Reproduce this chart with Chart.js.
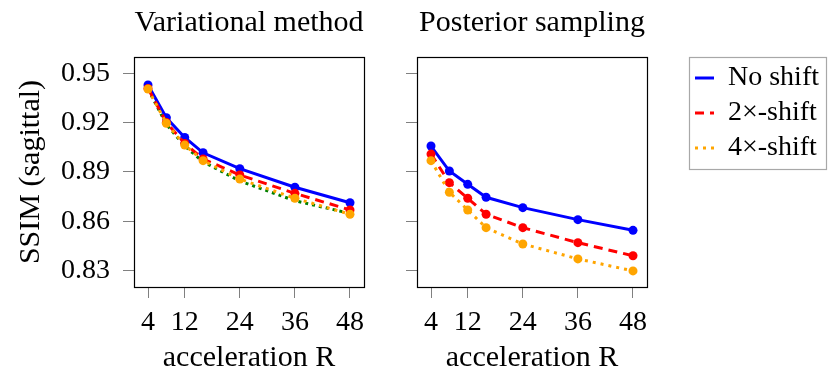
<!DOCTYPE html>
<html>
<head>
<meta charset="utf-8">
<script src="https://cdn.jsdelivr.net/npm/chart.js@4.4.1/dist/chart.umd.min.js"></script>
<style>
  body { margin: 0; background: #fff; }
  #c1 { position: absolute; left: 0; top: 0; }
  #c2 { position: absolute; left: 375px; top: 0; }
</style>
</head>
<body>
<canvas id="c1" width="375" height="370"></canvas>
<canvas id="c2" width="453" height="370"></canvas>
<script>
// acceleration factors R
var accel = [4, 8, 12, 16, 24, 36, 48];
var xTicks = [4, 12, 24, 36, 48];
var yTicks = [0.83, 0.86, 0.89, 0.92, 0.95];
var seriesNames = ['No shift', '2×-shift', '4×-shift'];

// Variational method
var varNoShift = [0.9430, 0.9230, 0.9110, 0.9017, 0.8920, 0.8807, 0.8713];
var var2x      = [0.9409, 0.9202, 0.9074, 0.8979, 0.8882, 0.8770, 0.8669];
var var4x      = [0.9405, 0.9196, 0.9064, 0.8969, 0.8857, 0.8740, 0.8643];
var varRef     = [0.9405, 0.9190, 0.9058, 0.8962, 0.8845, 0.8725, 0.8648];

// Posterior sampling
var postNoShift = [0.9058, 0.8906, 0.8825, 0.8746, 0.8683, 0.8610, 0.8545];
var post2x      = [0.9009, 0.8835, 0.8740, 0.8643, 0.8561, 0.8470, 0.8390];
var post4x      = [0.8969, 0.8777, 0.8669, 0.8561, 0.8462, 0.8371, 0.8298];

Chart.defaults.font.family = '"Liberation Serif", "Times New Roman", serif';
Chart.defaults.font.size = 28;
Chart.defaults.color = '#000';

function pts(vals) {
    return accel.map(function (x, i) { return {x: x, y: vals[i]}; });
}

function line(label, vals, color, dash, order, marks) {
    return {
        label: label,
        data: pts(vals),
        borderColor: color,
        backgroundColor: color,
        borderWidth: 3,
        borderDash: dash,
        pointRadius: marks ? 4.5 : 0,
        pointHoverRadius: marks ? 4.5 : 0,
        pointBorderWidth: 0,
        pointBackgroundColor: color,
        tension: 0,
        order: order
    };
}

var boxPlugin = {
    id: 'box',
    afterDatasetsDraw: function (chart) {
        var a = chart.chartArea, ctx = chart.ctx;
        ctx.save();
        ctx.strokeStyle = '#000';
        ctx.lineWidth = 1.2;
        ctx.strokeRect(Math.round(a.left) + 0.5, Math.round(a.top) + 0.5,
            Math.round(a.right - a.left), Math.round(a.bottom - a.top));
        ctx.restore();
    }
};

// legend on the right is limited to a quarter of the width by the layout, so widen it
var legendWidth = {
    id: 'legendWidth',
    beforeLayout: function (chart) {
        var lg = chart.legend;
        if (lg && !lg._wide) {
            var fit = lg.fit;
            lg.fit = function () { fit.call(this); this.width = 137; };
            lg._wide = true;
        }
    }
};

var legendBox = {
    id: 'legendBox',
    afterDraw: function (chart) {
        var lg = chart.legend;
        if (!lg || !lg.legendHitBoxes || !lg.legendHitBoxes.length) return;
        var hb = lg.legendHitBoxes, last = hb[hb.length - 1];
        var ctx = chart.ctx;
        ctx.save();
        ctx.strokeStyle = '#a8a8a8';
        ctx.lineWidth = 1.2;
        var x0 = Math.round(lg.left + 1) + 0.5;
        var y0 = Math.round(lg.top) + 0.5;
        var y1 = Math.round(last.top + last.height + 7) + 0.5;
        ctx.strokeRect(x0, y0, chart.width - 1.5 - x0, y1 - y0);
        ctx.restore();
    }
};

function tickGrid() {
    return {display: true, drawOnChartArea: false, drawTicks: true, tickLength: 11, color: '#808080', lineWidth: 1};
}

function xScale() {
    return {
        type: 'linear',
        min: 0.95,
        max: 51.05,
        afterBuildTicks: function (s) { s.ticks = xTicks.map(function (v) { return {value: v}; }); },
        ticks: {padding: 8, maxRotation: 0, autoSkip: false, callback: function (v) { return String(v); }},
        grid: tickGrid(),
        border: {display: false},
        title: {display: true, text: 'acceleration R', padding: 0, font: {size: 30, lineHeight: 0.82}},
        afterFit: function (s) { s.height = 83; }
    };
}

function yScale(showLabels, w) {
    var sc = {
        min: 0.82,
        max: 0.96,
        afterBuildTicks: function (s) { s.ticks = yTicks.map(function (v) { return {value: v}; }); },
        ticks: {padding: 13, callback: function (v) { return showLabels ? v.toFixed(2) : ''; }},
        grid: tickGrid(),
        border: {display: false},
        afterFit: function (s) { s.width = w; }
    };
    if (showLabels) {
        sc.title = {display: true, text: 'SSIM (sagittal)', padding: {top: 13, bottom: 0}, font: {size: 30}};
    }
    return sc;
}

// panel 1
new Chart(document.getElementById('c1'), {
    type: 'line',
    data: {
        datasets: [
            line(seriesNames[0], varNoShift, '#0000ff', [], 3, true),
            line(seriesNames[1], var2x, '#ff0000', [9, 6], 2, true),
            line(seriesNames[2], var4x, '#ffa500', [3, 5], 1, true),
            line('', varRef, '#008000', [3, 4], 4, false)
        ]
    },
    options: {
        responsive: false,
        animation: false,
        events: [],
        layout: {padding: {left: 0, right: 11, top: 0, bottom: 0}},
        scales: {x: xScale(), y: yScale(true, 134)},
        plugins: {
            legend: {display: false},
            tooltip: {enabled: false},
            title: {display: true, text: 'Variational method', fullSize: false,
                padding: {top: 5, bottom: 16}, font: {size: 30, weight: 'normal'}, color: '#000'}
        }
    },
    plugins: [boxPlugin]
});

// panel 2
new Chart(document.getElementById('c2'), {
    type: 'line',
    data: {
        datasets: [
            line(seriesNames[0], postNoShift, '#0000ff', [], 3, true),
            line(seriesNames[1], post2x, '#ff0000', [9, 6], 2, true),
            line(seriesNames[2], post4x, '#ffa500', [3, 5], 1, true)
        ]
    },
    options: {
        responsive: false,
        animation: false,
        events: [],
        layout: {padding: {left: 0, right: 3, top: 0, bottom: 0}},
        scales: {
            x: xScale(),
            y: yScale(false, 42),
            y2: {position: 'right', display: true, grid: {display: false}, border: {display: false},
                ticks: {display: false}, afterFit: function (s) { s.width = 41; }}
        },
        plugins: {
            tooltip: {enabled: false},
            title: {display: true, text: 'Posterior sampling', fullSize: false,
                padding: {top: 5, bottom: 16}, font: {size: 30, weight: 'normal'}, color: '#000'},
            legend: {
                display: true,
                position: 'right',
                align: 'start',
                fullSize: false,
                labels: {
                    usePointStyle: true,
                    pointStyle: 'line',
                    pointStyleWidth: 19,
                    padding: 7,
                    color: '#000',
                    font: {size: 28},
                    generateLabels: function (chart) {
                        return chart.data.datasets.map(function (ds, i) {
                            return {
                                text: ds.label,
                                datasetIndex: i,
                                strokeStyle: ds.borderColor,
                                fillStyle: ds.borderColor,
                                lineWidth: ds.borderWidth,
                                lineDash: ds.borderDash,
                                lineCap: 'butt',
                                pointStyle: 'line',
                                hidden: false,
                                fontColor: '#000'
                            };
                        });
                    }
                }
            }
        }
    },
    plugins: [legendWidth, boxPlugin, legendBox]
});
</script>
</body>
</html>
